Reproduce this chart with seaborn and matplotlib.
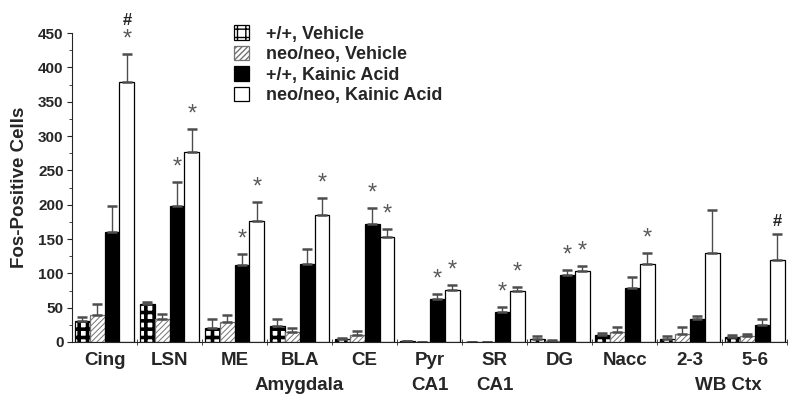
import matplotlib
matplotlib.use("Agg")
import matplotlib.pyplot as plt
import matplotlib.transforms as mtransforms
from matplotlib.patches import Patch
from matplotlib.ticker import MultipleLocator
import numpy as np
import pandas as pd
import seaborn as sns

# regiones y grupos
regiones = ["Cing", "LSN", "ME", "BLA", "CE", "Pyr", "SR", "DG", "Nacc", "2-3", "5-6"]
grupos = ["+/+, Vehicle", "neo/neo, Vehicle", "+/+, Kainic Acid", "neo/neo, Kainic Acid"]

# medias
wt_veh = [31, 56, 21, 24, 4, 1, 0, 5, 10, 5, 7]
neo_veh = [40, 34, 29, 14, 10, 0, 0, 2, 14, 11, 8]
wt_ka = [160, 198, 112, 113, 172, 62, 44, 97, 78, 33, 25]
neo_ka = [379, 277, 177, 185, 153, 76, 75, 103, 113, 130, 120]

# errores (solo hacia arriba)
wt_veh_err = [6, 2, 13, 9, 2, 0, 0, 4, 3, 4, 3]
neo_veh_err = [16, 7, 10, 6, 6, 0, 0, 1, 8, 11, 4]
wt_ka_err = [38, 35, 16, 22, 23, 8, 7, 8, 17, 5, 8]
neo_ka_err = [41, 34, 27, 25, 12, 7, 5, 8, 17, 62, 37]

# marcas de significancia (region, grupo)
asteriscos = [(0, 3), (1, 2), (1, 3), (2, 2), (2, 3), (3, 3), (4, 2), (4, 3),
              (5, 2), (5, 3), (6, 2), (6, 3), (7, 2), (7, 3), (8, 3)]
numerales = [(0, 3), (10, 3)]

# segunda linea de etiquetas
sub_etiquetas = [("Amygdala", 3.0), ("CA1", 5.0), ("CA1", 6.0), ("WB Ctx", 9.6)]

medias = [wt_veh, neo_veh, wt_ka, neo_ka]
errores = [wt_veh_err, neo_veh_err, wt_ka_err, neo_ka_err]

filas = []
for g, vals in zip(grupos, medias):
    for r, v in zip(regiones, vals):
        filas.append({"region": r, "grupo": g, "celulas": v})
df = pd.DataFrame(filas)

sns.set_style("ticks")
plt.rcParams["font.family"] = ["Liberation Sans", "DejaVu Sans"]

fig = plt.figure(figsize=(8, 4.04), dpi=100)
ax = fig.add_axes([0.09, 0.1535, 0.894, 0.7645])

sns.barplot(data=df, x="region", y="celulas", hue="grupo", order=regiones,
            hue_order=grupos, palette=["white", "white", "black", "white"],
            width=0.92, gap=0, errorbar=None, legend=False, ax=ax)

estilos = [
    dict(fc="white", ec="black", hatch="++", hlw=2.6),
    dict(fc="white", ec="0.45", hatch="//////", hlw=0.7),
    dict(fc="black", ec="black", hatch=None, hlw=1.0),
    dict(fc="white", ec="black", hatch=None, hlw=1.0),
]

contenedores = list(ax.containers)
centros = {}
for i, cont in enumerate(contenedores):
    est = estilos[i]
    xs = []
    for j, bar in enumerate(cont):
        bar.set_facecolor(est["fc"])
        bar.set_edgecolor(est["ec"])
        bar.set_linewidth(0.9)
        if est["hatch"]:
            bar.set_hatch(est["hatch"])
            if hasattr(bar, "set_hatch_linewidth"):
                bar.set_hatch_linewidth(est["hlw"])
        xs.append(bar.get_x() + bar.get_width() / 2)
        centros[(j, i)] = xs[-1]
    ax.errorbar(xs, medias[i], yerr=[np.zeros(len(xs)), errores[i]], fmt="none",
                ecolor="0.3", elinewidth=1.0, capsize=3.5, capthick=1.8, zorder=1)

for (r, g) in asteriscos:
    tope = medias[g][r] + errores[g][r]
    ax.text(centros[(r, g)], tope + 5, "*", ha="center", va="bottom",
            fontsize=17, color="0.35")
for (r, g) in numerales:
    tope = medias[g][r] + errores[g][r]
    extra = 38 if (r, g) in asteriscos else 8
    ax.text(centros[(r, g)], tope + extra, "#", ha="center", va="bottom",
            fontsize=12, fontweight="bold", color="0.15")

ax.set_ylim(0, 450)
ax.set_xlim(-0.5, 10.5)
ax.yaxis.set_major_locator(MultipleLocator(50))
ax.yaxis.set_minor_locator(MultipleLocator(25))
ax.set_xticks(np.arange(len(regiones)))
ax.set_xticks(np.arange(len(regiones)) + 0.5, minor=True)
ax.tick_params(axis="x", which="major", length=0, pad=7)
ax.tick_params(axis="x", which="minor", length=4, direction="inout")
ax.tick_params(axis="y", which="major", length=3.5, pad=2.5, labelsize=11)
ax.tick_params(axis="y", which="minor", length=2.5)
for lab in ax.get_xticklabels():
    lab.set_fontsize(13.5)
    lab.set_fontweight("bold")
for lab in ax.get_yticklabels():
    lab.set_fontweight("bold")
sns.despine(ax=ax)

trans = mtransforms.blended_transform_factory(ax.transData, ax.transAxes)
for texto, xpos in sub_etiquetas:
    ax.text(xpos, -0.113, texto, transform=trans, ha="center", va="top",
            fontsize=13.5, fontweight="bold")

ax.set_xlabel("")
ax.set_ylabel("Fos-Positive Cells", fontsize=13.5, fontweight="bold", labelpad=7)

manijas = []
for est in estilos:
    p = Patch(facecolor=est["fc"], edgecolor=est["ec"], hatch=est["hatch"], linewidth=0.9)
    manijas.append(p)
fig.legend(manijas, grupos, loc="upper left", bbox_to_anchor=(0.272, 0.978),
           frameon=False, prop={"size": 13, "weight": "bold"},
           handlelength=0.85, handleheight=0.85, handletextpad=0.95, labelspacing=0.17)

fig.savefig("out.png", dpi=100)
